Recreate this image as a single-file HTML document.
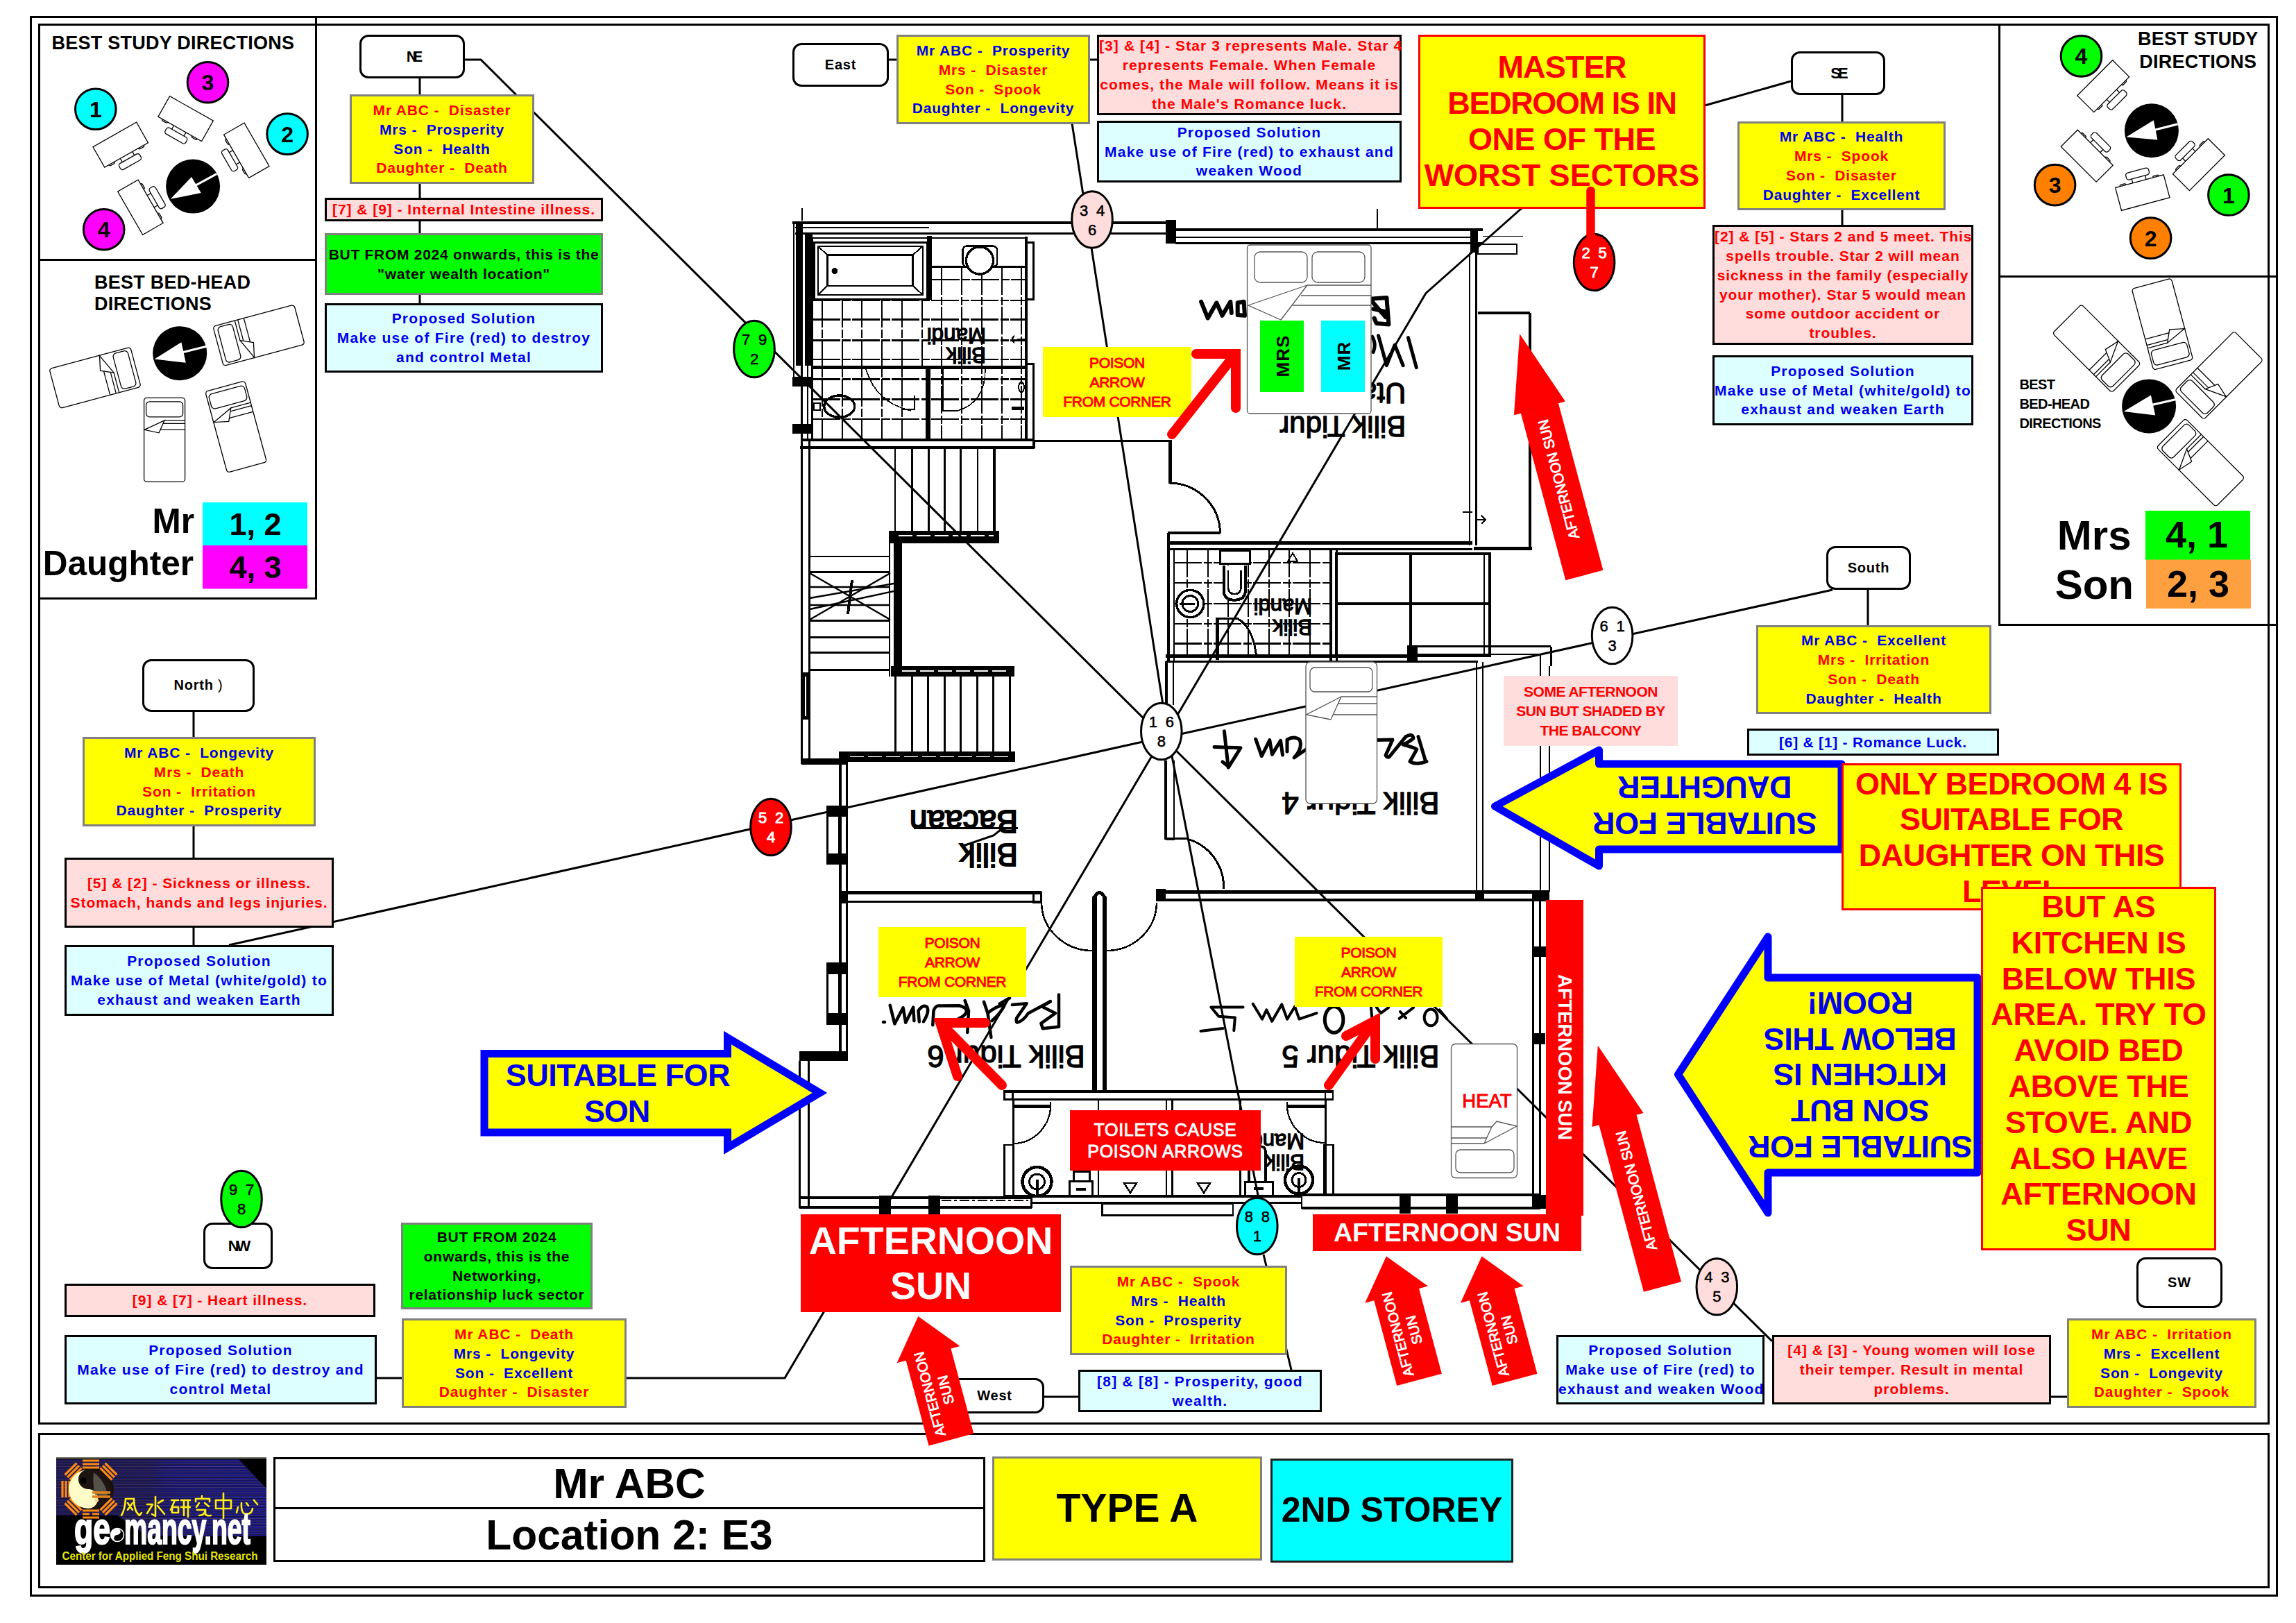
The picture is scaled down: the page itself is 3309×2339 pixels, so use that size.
<!DOCTYPE html>
<html>
<head>
<meta charset="utf-8">
<title>Mr ABC - Location 2: E3 - 2nd Storey</title>
<style>
html,body{margin:0;padding:0;background:#fff;}
body{width:3309px;height:2339px;position:relative;overflow:hidden;font-family:"Liberation Sans",sans-serif;font-weight:bold;color:#000;}
#pg{position:absolute;left:0;top:0;width:3309px;height:2339px;overflow:hidden;}
svg.ly{position:absolute;left:0;top:0;}
.bx{position:absolute;box-sizing:border-box;display:flex;align-items:center;justify-content:center;text-align:center;font-size:21px;line-height:27.9px;letter-spacing:0.95px;white-space:nowrap;}
.bx>div{width:100%;}
.y{background:#ffff00;border:3px solid #808080;letter-spacing:0.85px;}
.pk{background:#ffdddd;border:3px solid #000;color:#ff0000;}
.cy{background:#ddffff;border:3px solid #000;color:#0000ee;letter-spacing:1.24px;}
.gr{background:#00ff00;border:3px solid #808080;color:#000;letter-spacing:0.72px;}
.lb{background:#fff;border:3px solid #000;border-radius:13px;font-size:20px;letter-spacing:0.8px;}
.r{color:#ff0000;}
.b{color:#0000ee;}
.big{background:#ffff00;border:3px solid #ff0000;color:#ff0000;font-size:45px;line-height:51.8px;letter-spacing:0;align-items:flex-start;overflow:hidden;}
.red{background:#ff0000;color:#fff;letter-spacing:0;}
.pa{background:#ffff00;color:#ff0000;font-weight:normal;font-size:21px;line-height:28px;letter-spacing:-0.3px;-webkit-text-stroke:0.9px #ff0000;}
.t{position:absolute;white-space:nowrap;}
.rot{position:absolute;white-space:nowrap;transform-origin:0 0;}
</style>
</head>
<body>
<div id="pg">
<svg class="ly" width="3309" height="2339" viewBox="0 0 3309 2339" font-family="Liberation Sans, sans-serif" font-weight="normal" shape-rendering="crispEdges">
<g fill="none" stroke="#000" stroke-width="3" stroke-linecap="butt">
<!-- ===== top wall ===== -->
<path d="M1142 321H1694" stroke-width="4"/>
<path d="M1146 336H1680" stroke-width="3"/><path d="M1146 327.500H1339" stroke-width="2"/>
<path d="M1164 343H1478" stroke-width="2"/>
<path d="M1694 331H2137" stroke-width="4"/>
<path d="M1694 341.500H2119" stroke-width="2"/>
<path d="M1694 350.500H2137" stroke-width="3"/>
<path d="M1156 300V318M1984.500 301V331" stroke-width="2"/>
<rect x="2130" y="352" width="56" height="14" stroke-width="2.5"/>
<path d="M2137 340.500H2195" stroke-width="1.5"/>
<!-- ===== bathroom 1 left wall ===== -->
<path d="M1143.500 321V545" stroke-width="2"/>
<path d="M1164 336V635" stroke-width="2"/>
<path d="M1170.500 343V635" stroke-width="3"/>
<path d="M1155 527V1101M1166.500 635V1095" stroke-width="3"/>
<!-- bathtub -->
<rect x="1173" y="349.500" width="163.500" height="82" stroke-width="3"/>
<rect x="1178.500" y="354.500" width="151.500" height="70.500" stroke-width="2"/>
<rect x="1192.500" y="367.500" width="123" height="44.500" stroke-width="2.5"/>
<path d="M1178.500 354.500L1192.500 367.500M1330 354.500L1315.500 367.500M1178.500 425L1192.500 412M1330 425L1315.500 412" stroke-width="2"/>
<path d="M1339.500 340V431.500" stroke-width="6.5"/>
<!-- basin 1 -->
<rect x="1387.500" y="354.500" width="49.500" height="30" rx="6" stroke-width="2.5"/>
<path d="M1343 384.500H1479" stroke-width="2.5"/>
<!-- bathroom right wall -->
<path d="M1479 341V635" stroke-width="3.5"/>
<path d="M1479 349.500H1489.500V431.500H1479M1479 524.500H1489.500V646" stroke-width="2.5"/>
<!-- tile grid bath 1 -->
<g stroke-width="2.100" stroke-dasharray="40 2.5 12 2.5">
<path d="M1185 432V632M1213.700 432V632M1242.400 432V632M1271.200 432V632M1300 432V632M1328.700 432V528"/>
<path d="M1357.400 385V632M1386.200 385V632M1415 385V632M1443.700 385V632M1472.400 385V632"/>
<path d="M1343 403H1479M1171 433H1479M1171 460.500H1479M1171 490.500H1479M1171 518H1479M1171 546.500H1479M1171 575.500H1479M1171 604H1479"/>
</g>
<path d="M1170.500 529.700H1479" stroke-width="5.500"/>
<path d="M1337 528V633" stroke-width="7"/>
<path d="M1157 634H1490" stroke-width="4.500"/>
<path d="M1153 645H1491" stroke-width="3.500"/>
<path d="M1490.500 634V646" stroke-width="2.5"/>
<!-- wc 1 -->
<ellipse cx="1209.700" cy="585.700" rx="22" ry="15.700" stroke-width="3.500"/>
<rect x="1173" y="581" width="9" height="10" stroke-width="2.5"/>
<!-- door arcs bath 1 (thin) -->
<path d="M1248 532Q1262 580 1313 592M1300 590H1318V570M1359 532V592H1380M1380 592Q1420 580 1420 532" stroke-width="1.600"/>
<path d="M1462 484q-6 5 0 10M1466 489h12" stroke-width="2.5"/>
<ellipse cx="1472" cy="558" rx="4" ry="7" stroke-width="2"/>
<path d="M1458 588H1476" stroke-width="5"/>
<!-- ===== stairs ===== -->
<g stroke-width="2.800">
<path d="M1290 647V766M1314.200 647V766M1338.500 647V766M1361.300 647V766M1384.800 647V766M1409 647V766"/>
<path d="M1167 802H1283M1167 824.200H1283M1167 894.800H1283M1167 918.300H1283M1167 940.500H1283M1167 965.300H1283"/>
<path d="M1290.700 975V1083M1314.200 975V1083M1337.700 975V1083M1361.300 975V1083M1384.800 975V1083M1408.300 975V1083M1431.800 975V1083M1455.400 975V1083"/>
</g>
<path d="M1433 647V766" stroke-width="4"/>
<g stroke-width="2.400" shape-rendering="auto">
<path d="M1167 826L1283 893M1167 893L1283 826M1167 862L1288 841M1167 878L1288 852M1167 846H1283M1167 872H1283"/>
</g>
<path d="M1228 836L1222 885" stroke-width="4"/>
<path d="M1282 765V975" stroke-width="2"/>
<!-- reading room -->
<path d="M1155 1097H1221.500" stroke-width="9"/>
<path d="M1211 1083V1516M1220.500 1098V1516" stroke-width="3.500"/>
<rect x="1192.500" y="1162" width="17" height="83" stroke-width="2.5"/>
<rect x="1192.500" y="1388" width="17" height="88" stroke-width="2.5"/>
<path d="M1209.700 1286.500H1501" stroke-width="4.500"/>
<path d="M1209.700 1299.500H1501" stroke-width="3.500"/>
<rect x="1489" y="1286" width="11" height="14" stroke-width="3"/>
<path d="M1501 1301A73 70 0 0 0 1574 1370" stroke-width="2.500"/>
<path d="M1667 1301A72 70 0 0 1 1595 1370" stroke-width="2.500"/>
<path d="M1577.500 1292V1572M1591.800 1292V1572" stroke-width="6.500"/>
<path d="M1577.500 1293Q1584.500 1280 1591.800 1293" stroke-width="5"/>
<path d="M1666 1285.500H2232" stroke-width="4.500"/>
<path d="M1666 1297H2232" stroke-width="4"/>
<path d="M1680 1096V1209.500" stroke-width="3.600"/><path d="M1680 1209.500H1691.800V1096" stroke-width="2.600"/>
<path d="M1680 1208H1711" stroke-width="3"/>
<path d="M1711 1209A72 72 0 0 1 1763.600 1281" stroke-width="3"/>
<!-- master bedroom door / lower wall -->
<path d="M1490.500 635.500H1689" stroke-width="3.500"/>
<path d="M1686.500 635V697" stroke-width="5.500"/>
<path d="M1686 696A74 73 0 0 1 1758.500 768" stroke-width="3"/>
<path d="M1682.500 768H1758.500" stroke-width="4.500"/>
<!-- ===== bath 2 ===== -->
<path d="M1682.500 782.500H2121.500" stroke-width="4.500"/>
<path d="M1682.500 791.500H2121.500" stroke-width="3"/>
<path d="M1684 768V953" stroke-width="3.500"/><path d="M1680.500 953V1016" stroke-width="4"/><path d="M1691 953V1016" stroke-width="2.600"/>
<path d="M1692 791V953" stroke-width="2.500"/>
<path d="M1918 791.500V953.500" stroke-width="4.500"/>
<path d="M1926 791.500V953.500" stroke-width="3"/>
<path d="M1680 945.500H2043" stroke-width="4.500"/>
<path d="M1680 953.500H2043" stroke-width="3"/>
<g stroke-width="2.100" stroke-dasharray="40 2.5 12 2.5">
<path d="M1711.400 792V944M1741.400 792V944M1770.200 792V944M1799 792V944M1829 792V944M1857.700 792V944M1887.700 792V944"/>
<path d="M1692 811.200H1916M1692 840H1916M1692 870H1916M1692 898.700H1916M1692 927.500H1916"/>
</g>
<circle cx="1715.300" cy="870" r="19.600" stroke-width="3.500" fill="#fff"/>
<circle cx="1715.300" cy="870" r="11.500" stroke-width="3"/>
<path d="M1700 870H1722" stroke-width="3"/>
<rect x="1758.500" y="793" width="43" height="19.500" stroke-width="3" fill="#fff"/>
<path d="M1763.600 815V850Q1763.600 864.700 1779 864.700Q1795 864.700 1795 850V815" stroke-width="4" fill="#fff"/>
<path d="M1770 822V846Q1770 856 1779 856Q1788.500 856 1788.500 846V822" stroke-width="2.500"/>
<path d="M1754.500 889.500V951" stroke-width="5.500"/>
<path d="M1752 891H1784.500" stroke-width="3"/>
<path d="M1784.500 892Q1806 905 1810.700 945.700" stroke-width="3"/>
<path d="M1863 797l7 12h-14z" stroke-width="2"/>
<!-- wardrobe -->
<rect x="1926" y="798" width="220.500" height="146.500" stroke-width="4"/>
<path d="M2032.800 798V944.500" stroke-width="4"/>
<path d="M1926 870H2146" stroke-width="4.500"/>
<path d="M2138.600 798V944" stroke-width="2"/>
<path d="M2043 931.500H2235M2235.300 931.500V960" stroke-width="3"/>
<path d="M2043 943H2221" stroke-width="2"/>
<path d="M2043 953.500H2130" stroke-width="3"/>
<path d="M2220 943V1285M2233 960V1285" stroke-width="2.500"/>
<!-- master right wall / balcony -->
<path d="M2118 364V786M2127.500 364V786" stroke-width="2.600"/>
<path d="M2129.500 451.200H2205.300" stroke-width="4.500"/>
<path d="M2204.500 451V791.500" stroke-width="4"/>
<path d="M2124 790.300H2208" stroke-width="4.500"/>
<path d="M2108 738H2122M2128 749H2141M2135 743l6 6l-6 6" stroke-width="2"/>
<!-- bedroom 4 right wall -->
<path d="M2128 953.500V1285M2137 953.500V1285" stroke-width="2.700"/>
<!-- bedroom 5 right wall -->
<path d="M2209.200 1297V1742M2219.600 1297V1742" stroke-width="2.700"/>
<!-- ===== bedroom 6 ===== -->
<path d="M1152.500 1529V1741" stroke-width="3.500"/>
<path d="M1165.300 1529V1741" stroke-width="2.700"/>
<path d="M1152 1725.500H1487" stroke-width="4"/>
<path d="M1152 1740H1487" stroke-width="4"/>
<path d="M1486.700 1724V1741" stroke-width="2.500"/>
<path d="M1357 1730H1482" stroke-width="1.500" stroke-dasharray="14 4 4 4"/>
<!-- ===== toilets ===== -->
<path d="M1446.200 1572.500H1921.700" stroke-width="4"/>
<path d="M1446.200 1584.500H1921.700" stroke-width="2.700"/>
<rect x="1447.500" y="1572" width="12" height="13" stroke-width="2.500"/>
<rect x="1910" y="1572" width="11" height="13" stroke-width="2.500"/>
<path d="M1460 1585V1724" stroke-width="3"/>
<rect x="1447.500" y="1650" width="13" height="74" stroke-width="2.700"/>
<path d="M1514 1588A54 56 0 0 1 1460.600 1648" stroke-width="2.200"/>
<path d="M1855 1588A55 56 0 0 0 1910 1647" stroke-width="2.200"/>
<path d="M1462 1594H1514M1855 1594H1910" stroke-width="5"/>
<path d="M1910 1585V1723" stroke-width="3"/>
<rect x="1908.500" y="1650" width="13" height="73" stroke-width="2.700"/>
<path d="M1583 1585V1724M1681 1585V1724M1689.500 1585V1724M1787.500 1585V1724" stroke-width="2.700"/>
<circle cx="1494.500" cy="1703" r="21" stroke-width="4.500" fill="#fff"/>
<circle cx="1494.500" cy="1703" r="11" stroke-width="3"/>
<path d="M1494.500 1700V1722" stroke-width="4"/>
<circle cx="1872" cy="1700.500" r="20" stroke-width="4.500" fill="#fff"/>
<circle cx="1872" cy="1700.500" r="10" stroke-width="3"/>
<path d="M1872 1698V1722" stroke-width="4"/>
<rect x="1541" y="1702" width="33" height="21" stroke-width="3"/>
<rect x="1547" y="1688" width="23" height="14" stroke-width="3"/>
<path d="M1551 1714H1565" stroke-width="4"/>
<rect x="1794" y="1703" width="40" height="20" stroke-width="3"/>
<path d="M1800 1703V1660q0 -8 8 -8h8q8 0 8 8V1703" stroke-width="3.500"/>
<path d="M1807 1713H1821" stroke-width="4"/>
<path d="M1620 1705h18l-9 14zM1726 1705h18l-9 14z" stroke-width="2.500"/>
<path d="M1446 1724H1876" stroke-width="3.500"/>
<path d="M1487 1733.200H1876" stroke-width="2.700"/>
<rect x="1588.500" y="1735" width="188.500" height="16.500" stroke-width="2.700"/>
<!-- bedroom 5 bottom wall -->
<path d="M1876 1724V1742" stroke-width="2.700"/>
<path d="M1876 1722H2220" stroke-width="4.500"/>
<path d="M1876 1741H2220" stroke-width="4"/>
</g>
<!-- ===== solid black blocks ===== -->
<g fill="#000" stroke="none">
<rect x="1680" y="316.500" width="14.500" height="34"/>
<rect x="2119" y="332" width="11" height="32"/>
<rect x="1146.500" y="322" width="10" height="205"/><rect x="1160" y="337" width="11" height="190"/>
<rect x="1142" y="542.500" width="28.500" height="14.500"/>
<rect x="1142" y="610.500" width="28.500" height="14.500"/>
<circle cx="1203" cy="390.500" r="4.500"/>
<!-- stair C wall -->
<rect x="1281" y="765" width="159" height="17.500"/>
<rect x="1288" y="782" width="12" height="179"/>
<rect x="1284" y="960" width="178" height="14.500"/>
<rect x="1212.300" y="1082.700" width="251" height="15.700"/>
<!-- windows -->
<rect x="1191.400" y="1161" width="30" height="16"/>
<rect x="1191.400" y="1230.400" width="30" height="15.600"/>
<rect x="1191.400" y="1387.200" width="29" height="17"/>
<rect x="1191.400" y="1460" width="30" height="17"/>
<rect x="1152.200" y="1515" width="69.300" height="14.400"/>
<rect x="1267.200" y="1722.700" width="17" height="27.500"/>
<rect x="1337.700" y="1722.700" width="17" height="27.500"/>
<rect x="2017" y="1720" width="16" height="29"/>
<rect x="2083.700" y="1720" width="17" height="29"/>
<rect x="2207.500" y="1721.500" width="25" height="20.500"/>
<rect x="2210.500" y="1363.600" width="17" height="15"/>
<rect x="2210.500" y="1489" width="16.500" height="15.500"/>
<rect x="2027.600" y="930" width="15.600" height="23.600"/>
<rect x="2125.600" y="1283" width="13" height="16"/>
<rect x="2208" y="1283" width="25" height="16"/>
<rect x="1666" y="1281" width="14" height="18"/>
<rect x="1209" y="1284" width="13" height="18"/>
<rect x="1156.500" y="969" width="9" height="68" />
</g>
<g fill="none" stroke="#fff" stroke-width="1.500" stroke-dasharray="20 6">
<path d="M1295 772H1432M1300 967H1455M1225 1090.500H1455"/>
</g>
<path d="M1161 975V1032" stroke="#fff" stroke-width="2.500" fill="none"/>
<circle cx="1412" cy="375.400" r="19.600" fill="#fff" stroke="#000" stroke-width="3.500"/>
<!-- ===== printed room labels (upside down) ===== -->
<g fill="#000" stroke="#000" stroke-width="1.300" shape-rendering="auto">
<text transform="translate(1421,500.500) rotate(180)" font-size="31.300">Bilik</text>
<text transform="translate(1421,472.500) rotate(180)" font-size="31.300">Mandi</text>
<text transform="translate(1891,893) rotate(180)" font-size="31">Bilik</text>
<text transform="translate(1891,863) rotate(180)" font-size="31">Mandi</text>
<text transform="translate(1880,1664) rotate(180)" font-size="31">Bilik</text>
<text transform="translate(1880,1634) rotate(180)" font-size="31">Mandi</text>
<text transform="translate(2026.300,600) rotate(180)" font-size="42">Bilik Tidur</text>
<text transform="translate(2026.300,552) rotate(180)" font-size="42">Utama</text>
<text transform="translate(1467,1216) rotate(180)" font-size="46" stroke-width="1.800">Bilik</text>
<text transform="translate(1467,1167.600) rotate(180)" font-size="46" stroke-width="2">Bacaan</text>
<path d="M1317 1193.500H1467M1388 1219L1432 1204L1442 1196" fill="none" stroke-width="3"/>
<text transform="translate(2074.600,1141.500) rotate(180)" font-size="44">Bilik Tidur 4</text>
<text transform="translate(1563.800,1507) rotate(180)" font-size="44">Bilik Tidur 6</text>
<text transform="translate(2074.600,1507) rotate(180)" font-size="44">Bilik Tidur 5</text>
</g>
<!-- ===== handwriting (traced) ===== -->
<g fill="none" stroke="#000" stroke-linecap="round" stroke-linejoin="round" shape-rendering="auto">
<g stroke-width="5">
<path d="M1764.400 1053.700L1770.200 1106M1750 1076.600L1788 1077.700L1771 1105L1762 1098"/>
<path d="M1809.700 1065.200L1818.300 1089.600L1829.800 1066.600L1833.400 1087.400L1845.600 1067.300L1848.500 1088.100"/>
<path d="M1855 1083L1855 1066Q1865 1060 1873 1066Q1878 1078 1865 1092L1882.300 1080"/>
<path d="M1985 1066.600L2007 1066L1997 1088.500Q1999 1092 2002 1091L2026 1061.600"/>
<path d="M2026 1061.600Q2036 1056 2037 1064Q2030 1070 2022 1073Q2040 1078 2041.800 1080L2032 1097.500Q2040 1103 2056 1097.500M2044 1061.600L2054.700 1097.500"/>
</g>
<g stroke-width="4.500">
<path d="M1282.700 1448.700L1289.400 1475.500L1301.600 1452.300L1305.200 1473.700L1316.200 1451.700L1317.400 1471.200"/>
<path d="M1324.800 1472.400L1323.500 1456.600Q1330 1447 1336 1451Q1340 1458 1330.900 1472.400"/>
<path d="M1344.300 1477.300L1345.500 1456.600Q1348 1450 1352 1449.600L1382 1449.300Q1394 1452 1393 1458Q1390 1465 1382 1467.600"/>
<path d="M1390.600 1442L1396 1456.600L1394.300 1488"/>
<path d="M1418 1443.800L1423.500 1460.200L1428.400 1495M1423.500 1460.200Q1435 1450 1448 1448Q1444 1458 1429.600 1471.200M1440.600 1446.800L1455.200 1438.300"/>
<path d="M1458.900 1448L1479.600 1446.200L1465 1467.600Q1464 1473 1466 1473.600Q1474 1472 1482 1460.200L1513.800 1443.200"/>
<path d="M1526 1433.400V1479.800M1513.800 1443.200L1501.600 1450.500L1521 1460.200L1500.400 1474.900L1502.800 1482.200L1526 1479.800"/>
<path d="M1273 1473h2"/>
</g>
<g stroke-width="4">
<path d="M1745.400 1451.500H1791.600M1745.400 1451.500L1756.400 1464.800L1779.900 1466.400L1778.300 1485.200M1730.500 1486L1762.600 1482"/>
<path d="M1805.700 1446.800L1819.100 1468.700L1825.300 1455.400L1833.200 1471.800L1847.300 1447.500L1855.100 1468.700L1866.100 1450.700L1872.400 1468.700L1897.500 1460.100"/>
<ellipse cx="1922.600" cy="1469.500" rx="13.300" ry="18.800" stroke-width="5"/>
<path d="M1975.900 1450.700L1977.400 1468.700M1983.700 1451.500L1990 1460.100L2001 1452.200M2016.600 1467.900L2037 1452.200M2018 1458L2026 1467"/>
<ellipse cx="2062.100" cy="1466.400" rx="9.400" ry="11.800"/>
<path d="M2074.600 1455.400L2085 1468"/>
</g>
<g stroke-width="6">
<path d="M1731.100 434.800L1740.700 458.500L1753.300 436.300L1761.500 454.800L1773.300 434.800L1774.800 451.100"/>
<path d="M1783.700 436.300V454.100L1794 454.800L1792.600 434.800Z"/>
<path d="M1998.400 428.900L2001.400 467.400M1977.700 430.400L1998.400 428.900M1979.200 445.200L1998.400 449.600M1980.600 458.500L1983.600 465.900L2001.400 467.400M1977.700 434.800L1996.900 457"/>
<path d="M1986.500 483.700L1998.400 526.600L2010.200 497L2022.100 526.600M2029.500 486.600L2041.300 529.600M1977.700 485.200Q1984 496 1979.100 507.400" stroke-width="5"/>
</g>
</g>
</svg>

<svg class="ly" width="3309" height="2339" viewBox="0 0 3309 2339">
<!-- frame -->
<g fill="none" stroke="#000" stroke-width="3">
<rect x="44.5" y="24.5" width="3237" height="2275"/>
<rect x="56.5" y="35.5" width="3213" height="2016"/>
<rect x="56.5" y="2066.5" width="3213" height="221"/>
<path d="M455.5 24V862.5H56M56 374.5H455"/>
<path d="M2881.5 35V900.5H3281M2881 398.5H3281"/>
</g>
<!-- compass / connector lines -->
<g fill="none" stroke="#000" stroke-width="3" stroke-linejoin="round">
<path d="M669 86H693L1674 1061"/>
<path d="M1545 178L1682 1054"/>
<path d="M2581 117L2457 152L2300 215L2192 301L2055 422.5L1683 1054"/>
<path d="M2641 850L1674 1064"/>
<path d="M2554 1933L2474 1854L1674 1061"/>
<path d="M1861 1974L1821 1808M1813.5 1725L1682 1054"/>
<path d="M902 1986H1131L1681 1054"/>
<path d="M330 1362L1674 1063"/>
<!-- small connectors -->
<path d="M605 112V437"/>
<path d="M1280 86H1293M1570 86H1582"/>
<path d="M2655 136V325"/>
<path d="M2692 849V902"/>
<path d="M279 1025V1463"/>
<path d="M541 1986H580"/>
<path d="M1504 2013H1555"/>
<path d="M2955 2013H2980"/>
</g>
<!-- ============ blue arrows ============ -->
<g fill="#ffff00" stroke="#0000ff" stroke-width="11" stroke-linejoin="round">
<path d="M2154.5 1162L2304.5 1081V1101H2654V1224H2304.5V1248Z"/>
<path d="M2418.5 1548.5L2548 1350V1409H2850V1690H2548V1748Z"/>
<path d="M1181.5 1575L1048.5 1495.5V1518.5H698V1632H1048.5V1654Z" stroke-linejoin="miter" stroke-miterlimit="10"/>
</g>
<g fill="#0000ee" font-size="45" font-family="Liberation Sans, sans-serif" font-weight="bold" text-anchor="middle">
<text transform="translate(2457,1161) rotate(180)" letter-spacing="-0.5"><tspan x="0" y="-10">SUITABLE FOR</tspan><tspan x="0" y="41.8">DAUGHTER</tspan></text>
<text transform="translate(2681,1549.5) rotate(180)" letter-spacing="-0.5"><tspan x="0" y="-87.5">SUITABLE FOR</tspan><tspan x="0" y="-35.7">SON BUT</tspan><tspan x="0" y="16.1">KITCHEN IS</tspan><tspan x="0" y="67.9">BELOW THIS</tspan><tspan x="0" y="119.7">ROOM!</tspan></text>
<text x="890.4" y="1565" letter-spacing="-0.5">SUITABLE FOR</text>
<text x="889" y="1616.8" letter-spacing="-1.2">SON</text>
</g>
</svg>

<!-- ===== NE column ===== -->
<div class="bx lb" style="left:518px;top:50px;width:152px;height:63px;font-size:22px;letter-spacing:-7px;">NE</div>
<div class="bx y" style="left:504px;top:136px;width:266px;height:129px;"><div><span class="r">Mr ABC -&nbsp; Disaster</span><br><span class="b">Mrs -&nbsp; Prosperity</span><br><span class="b">Son -&nbsp; Health</span><br><span class="r">Daughter -&nbsp; Death</span></div></div>
<div class="bx pk" style="left:468px;top:285px;width:401px;height:34px;">[7] &amp; [9] - Internal Intestine illness.</div>
<div class="bx gr" style="left:468px;top:336px;width:401px;height:89px;"><div>BUT FROM 2024 onwards, this is the<br>"water wealth location"</div></div>
<div class="bx cy" style="left:468px;top:437px;width:401px;height:100px;"><div>Proposed Solution<br>Make use of Fire (red) to destroy<br>and control Metal</div></div>

<!-- ===== East ===== -->
<div class="bx lb" style="left:1142px;top:62px;width:139px;height:63px;">East</div>
<div class="bx y" style="left:1292px;top:50px;width:279px;height:129px;"><div><span class="b">Mr ABC -&nbsp; Prosperity</span><br><span class="r">Mrs -&nbsp; Disaster</span><br><span class="r">Son -&nbsp; Spook</span><br><span class="b">Daughter -&nbsp; Longevity</span></div></div>
<div class="bx pk" style="left:1581px;top:50px;width:439px;height:116px;letter-spacing:1.1px;"><div>[3] &amp; [4] - Star 3 represents Male. Star 4<br>represents Female. When Female<br>comes, the Male will follow. Means it is<br>the Male's Romance luck.</div></div>
<div class="bx cy" style="left:1581px;top:174px;width:439px;height:89px;"><div>Proposed Solution<br>Make use of Fire (red) to exhaust and<br>weaken Wood</div></div>

<!-- ===== Master bedroom note ===== -->
<div class="bx big" style="left:2044px;top:50px;width:414px;height:251px;padding-top:18px;line-height:52px;"><div><span style="letter-spacing:-0.8px">MASTER</span><br><span style="letter-spacing:-1.4px">BEDROOM IS IN</span><br><span style="letter-spacing:-0.5px">ONE OF THE</span><br>WORST SECTORS</div></div>

<!-- ===== SE ===== -->
<div class="bx lb" style="left:2581px;top:74px;width:136px;height:63px;font-size:22px;letter-spacing:-4px;">SE</div>
<div class="bx y" style="left:2504px;top:175px;width:300px;height:128px;"><div><span class="b">Mr ABC -&nbsp; Health</span><br><span class="r">Mrs -&nbsp; Spook</span><br><span class="r">Son -&nbsp; Disaster</span><br><span class="b">Daughter -&nbsp; Excellent</span></div></div>
<div class="bx pk" style="left:2468px;top:324px;width:376px;height:173px;"><div>[2] &amp; [5] - Stars 2 and 5 meet. This<br>spells trouble. Star 2 will mean<br>sickness in the family (especially<br>your mother). Star 5 would mean<br>some outdoor accident or<br>troubles.</div></div>
<div class="bx cy" style="left:2468px;top:512px;width:376px;height:101px;"><div>Proposed Solution<br>Make use of Metal (white/gold) to<br>exhaust and weaken Earth</div></div>

<!-- ===== South ===== -->
<div class="bx lb" style="left:2632px;top:787px;width:122px;height:63px;">South</div>
<div class="bx y" style="left:2531px;top:901px;width:339px;height:128px;"><div><span class="b">Mr ABC -&nbsp; Excellent</span><br><span class="r">Mrs -&nbsp; Irritation</span><br><span class="r">Son -&nbsp; Death</span><br><span class="b">Daughter -&nbsp; Health</span></div></div>
<div class="bx cy" style="left:2518px;top:1050px;width:363px;height:39px;letter-spacing:0.75px;">[6] &amp; [1] - Romance Luck.</div>

<!-- ===== SOME AFTERNOON SUN ===== -->
<div class="bx" style="left:2167px;top:974px;width:251px;height:101px;background:#ffdddd;color:#ff0000;font-size:21px;line-height:28px;letter-spacing:-0.5px;"><div>SOME AFTERNOON<br>SUN BUT SHADED BY<br>THE BALCONY</div></div>

<!-- ===== North ===== -->
<div class="bx lb" style="left:205px;top:950px;width:162px;height:76px;">North&nbsp;<span style="font-weight:normal">)</span></div>
<div class="bx y" style="left:119px;top:1062px;width:336px;height:129px;"><div><span class="b">Mr ABC -&nbsp; Longevity</span><br><span class="r">Mrs -&nbsp; Death</span><br><span class="r">Son -&nbsp; Irritation</span><br><span class="b">Daughter -&nbsp; Prosperity</span></div></div>
<div class="bx pk" style="left:93px;top:1236px;width:388px;height:101px;"><div>[5] &amp; [2] - Sickness or illness.<br>Stomach, hands and legs injuries.</div></div>
<div class="bx cy" style="left:93px;top:1362px;width:388px;height:101.5px;"><div>Proposed Solution<br>Make use of Metal (white/gold) to<br>exhaust and weaken Earth</div></div>

<!-- ===== NW ===== -->
<div class="bx lb" style="left:293px;top:1762px;width:100px;height:67px;font-size:22px;letter-spacing:-4px;">NW</div>
<div class="bx pk" style="left:93px;top:1850px;width:448px;height:48px;">[9] &amp; [7] - Heart illness.</div>
<div class="bx cy" style="left:93px;top:1924px;width:450px;height:100px;"><div>Proposed Solution<br>Make use of Fire (red) to destroy and<br>control Metal</div></div>
<div class="bx gr" style="left:578px;top:1762px;width:276px;height:125px;"><div>BUT FROM 2024<br>onwards, this is the<br>Networking,<br>relationship luck sector</div></div>
<div class="bx y" style="left:579px;top:1900px;width:324px;height:129px;"><div><span class="r">Mr ABC -&nbsp; Death</span><br><span class="b">Mrs -&nbsp; Longevity</span><br><span class="b">Son -&nbsp; Excellent</span><br><span class="r">Daughter -&nbsp; Disaster</span></div></div>

<!-- ===== West ===== -->
<div class="bx lb" style="left:1362px;top:1986px;width:143px;height:51px;">West</div>
<div class="bx y" style="left:1542px;top:1824px;width:313px;height:129px;"><div><span class="r">Mr ABC -&nbsp; Spook</span><br><span class="b">Mrs -&nbsp; Health</span><br><span class="b">Son -&nbsp; Prosperity</span><br><span class="r">Daughter -&nbsp; Irritation</span></div></div>
<div class="bx cy" style="left:1554px;top:1974px;width:351px;height:61px;"><div>[8] &amp; [8] - Prosperity, good<br>wealth.</div></div>

<!-- ===== SW ===== -->
<div class="bx lb" style="left:3079px;top:1812px;width:124px;height:73px;">SW</div>
<div class="bx y" style="left:2979px;top:1900px;width:273px;height:129px;"><div><span class="r">Mr ABC -&nbsp; Irritation</span><br><span class="b">Mrs -&nbsp; Excellent</span><br><span class="b">Son -&nbsp; Longevity</span><br><span class="r">Daughter -&nbsp; Spook</span></div></div>
<div class="bx pk" style="left:2554px;top:1924px;width:402px;height:100px;"><div>[4] &amp; [3] - Young women will lose<br>their temper. Result in mental<br>problems.</div></div>
<div class="bx cy" style="left:2243px;top:1924px;width:300px;height:100px;"><div>Proposed Solution<br>Make use of Fire (red) to<br>exhaust and weaken Wood</div></div>

<!-- ===== Poison arrow labels ===== -->
<div class="bx pa" style="left:1503px;top:500px;width:214px;height:101px;"><div>POISON<br>ARROW<br>FROM CORNER</div></div>
<div class="bx pa" style="left:1266px;top:1336px;width:213px;height:101px;"><div>POISON<br>ARROW<br>FROM CORNER</div></div>
<div class="bx pa" style="left:1866px;top:1350px;width:213px;height:101px;"><div>POISON<br>ARROW<br>FROM CORNER</div></div>

<!-- ===== Red blocks ===== -->
<div class="bx red" style="left:1542px;top:1600px;width:275px;height:87px;font-weight:normal;font-size:25px;line-height:31px;letter-spacing:0.7px;-webkit-text-stroke:0.9px #fff;"><div>TOILETS CAUSE<br>POISON ARROWS</div></div>
<div class="bx red" style="left:1154px;top:1750px;width:375px;height:141px;font-size:55.5px;line-height:65px;"><div>AFTERNOON<br>SUN</div></div>
<div class="bx red" style="left:1892px;top:1750px;width:387px;height:53px;font-size:37.5px;line-height:53px;">AFTERNOON SUN</div>
<div class="bx red" style="left:2227.5px;top:1297px;width:54.5px;height:455px;"></div>
<div class="rot" style="left:2272px;top:1404px;transform:rotate(90deg);color:#fff;font-size:27.4px;line-height:34px;">AFTERNOON SUN</div>

<!-- ===== Big yellow notes right ===== -->
<div class="bx big" style="left:2654px;top:1100px;width:490px;height:212px;padding-top:0.5px;letter-spacing:-0.6px;"><div>ONLY BEDROOM 4 IS<br>SUITABLE FOR<br>DAUGHTER ON THIS<br>LEVEL</div></div>
<div class="bx big" style="left:2855px;top:1278px;width:339px;height:524px;padding-top:0px;letter-spacing:-0.3px;"><div>BUT AS<br>KITCHEN IS<br>BELOW THIS<br>AREA. TRY TO<br>AVOID BED<br>ABOVE THE<br>STOVE. AND<br>ALSO HAVE<br>AFTERNOON<br>SUN</div></div>

<!-- ===== bottom title block ===== -->
<div class="bx" style="left:394px;top:2100px;width:1026px;height:75px;border:3px solid #000;font-size:60.5px;line-height:70px;letter-spacing:0;">Mr ABC</div>
<div class="bx" style="left:394px;top:2172px;width:1026px;height:79px;border:3px solid #000;font-size:60.5px;line-height:70px;letter-spacing:0;">Location 2: E3</div>
<div class="bx y" style="left:1430px;top:2099px;width:389px;height:150px;font-size:57px;letter-spacing:0;">TYPE A</div>
<div class="bx" style="left:1831px;top:2102px;width:350px;height:150px;background:#00ffff;border:3px solid #202020;font-size:50px;letter-spacing:0;">2ND STOREY</div>

<svg class="ly" width="3309" height="2339" viewBox="0 0 3309 2339" font-family="Liberation Sans, sans-serif" font-weight="bold">
<defs>
<g id="desk" fill="#fff" stroke="#000" stroke-width="1.3">
<rect x="-10" y="16" width="20" height="9"/>
<rect x="-17" y="23" width="34" height="10" rx="3.5"/>
<rect x="-29" y="15" width="9" height="4" rx="2"/>
<rect x="20" y="15" width="9" height="4" rx="2"/>
<rect x="-36" y="-17" width="72" height="34"/>
</g>
<g id="bed" fill="#fff" stroke="#000" stroke-width="1.3">
<rect x="-29.5" y="-60.5" width="59" height="121" rx="4"/>
<rect x="-26.5" y="-55" width="53" height="22" rx="5"/>
<path d="M-29.5 -14.5H29.5M0 -28H29.5M-3 -23.5H29.5" fill="none"/>
<path d="M-29 -14.5L0 -28L-8 -10Z"/>
</g>
<g id="compass">
<circle r="39" fill="#000"/>
</g>
<g id="rarrow"><polygon points="0,0 38.3,111 28,111 28,360 -28,360 -28,111 -38.3,111" fill="#ff0000"/></g>
<g id="sarrow"><polygon points="0,0 47,57 33.5,57 33.5,184 -33.5,184 -33.5,57 -47,57" fill="#ff0000"/></g>
</defs>

<!-- ============ floor plan beds ============ -->
<g fill="#fff" stroke="#555" stroke-width="1.3">
<rect x="1797.5" y="353" width="178.5" height="243" rx="4"/>
<rect x="1808" y="363" width="76" height="44" rx="8"/>
<rect x="1891" y="363" width="76" height="44" rx="8"/>
<path d="M1976 411H1884L1846 461M1976 426H1875M1976 440H1863M1884 411L1799 440L1846 461" fill="none"/>
<rect x="1882" y="954" width="102.5" height="204" rx="6"/>
<rect x="1888" y="962" width="90" height="35" rx="7"/>
<path d="M1984.500 1004H1933L1918 1037M1984.500 1014H1928M1984.500 1030H1921M1933 1004L1882.500 1030L1918 1037" fill="none"/>
<rect x="2091.5" y="1504.500" width="95" height="193" rx="6"/>
<rect x="2098" y="1657" width="84" height="33" rx="7"/>
<path d="M2091.500 1624H2150L2139 1648M2091.500 1640H2143M2091.500 1648H2139M2150 1624L2157 1616L2186 1623L2139 1648" fill="none"/>
</g>
<text x="2143" y="1595.500" font-size="27.500" font-weight="normal" fill="#ff0000" stroke="#ff0000" stroke-width="1" text-anchor="middle">HEAT</text>

<!-- ============ top-left panel: study ============ -->
<text x="74.5" y="70.7" font-size="27" letter-spacing="0.25">BEST STUDY DIRECTIONS</text>
<use href="#desk" transform="translate(173.7,208.7) rotate(-29.5)"/>
<use href="#desk" transform="translate(267.6,171.1) rotate(29.5)"/>
<use href="#desk" transform="translate(355.3,216.8) rotate(60)"/>
<use href="#desk" transform="translate(202.4,298.7) rotate(240)"/>
<g stroke="#000" stroke-width="3">
<circle cx="137.8" cy="157.2" r="29.3" fill="#00ffff"/>
<circle cx="299.5" cy="118.7" r="29.3" fill="#ff00ff"/>
<circle cx="414.1" cy="193.1" r="29.3" fill="#00ffff"/>
<circle cx="149.7" cy="330.7" r="29.3" fill="#ff00ff"/>
</g>
<g font-size="32" text-anchor="middle">
<text x="137.8" y="168.7">1</text><text x="299.5" y="130.2">3</text><text x="414.1" y="204.6">2</text><text x="149.7" y="342.2">4</text>
</g>
<circle cx="278.1" cy="268.6" r="39" fill="#000"/>
<path d="M312.1 250.7L270 273.6" stroke="#fff" stroke-width="3.2" fill="none"/>
<polygon points="245.8,286.8 276,255 289.8,277.9" fill="#fff"/>

<!-- ============ left panel: bed-head ============ -->
<text x="136" y="415.9" font-size="27" letter-spacing="0.25">BEST BED-HEAD</text>
<text x="136" y="447.3" font-size="27" letter-spacing="0.25">DIRECTIONS</text>
<use href="#bed" transform="translate(373,483.3) rotate(-105)"/>
<use href="#bed" transform="translate(137,544.4) rotate(75)"/>
<use href="#bed" transform="translate(237.1,633.8)"/>
<use href="#bed" transform="translate(340.1,615) rotate(-15.2)"/>
<circle cx="259.2" cy="509.2" r="39" fill="#000"/>
<path d="M297.4 499.3L255 509.7" stroke="#fff" stroke-width="3.2" fill="none"/>
<polygon points="222.6,517.6 261.4,493.2 267.8,522.8" fill="#fff"/>
<rect x="292" y="724" width="151" height="62" fill="#00ffff"/>
<rect x="292" y="786" width="151" height="62.5" fill="#ff00ff"/>
<text x="280" y="768.2" font-size="49.5" text-anchor="end">Mr</text>
<text x="279" y="829.3" font-size="49.5" text-anchor="end">Daughter</text>
<text x="368" y="771.3" font-size="45" text-anchor="middle">1, 2</text>
<text x="368" y="833" font-size="45" text-anchor="middle">4, 3</text>

<!-- ============ top-right panel: study ============ -->
<text x="3167.8" y="65.4" font-size="27" text-anchor="middle" letter-spacing="0.25">BEST STUDY</text>
<text x="3167.8" y="97.5" font-size="27" text-anchor="middle" letter-spacing="0.25">DIRECTIONS</text>
<use href="#desk" transform="translate(3031.2,124.2) rotate(-45)"/>
<use href="#desk" transform="translate(3007.7,224.7) rotate(225)"/>
<use href="#desk" transform="translate(3168.9,237.2) rotate(135)"/>
<use href="#desk" transform="translate(3087.8,277.6) rotate(165)"/>
<g stroke="#000" stroke-width="3">
<circle cx="2999.5" cy="80.9" r="29.3" fill="#00ff00"/>
<circle cx="2961.6" cy="266.6" r="29.3" fill="#ff8000"/>
<circle cx="3211.9" cy="281" r="29.3" fill="#00ff00"/>
<circle cx="3099.6" cy="343.1" r="29.3" fill="#ff8000"/>
</g>
<g font-size="32" text-anchor="middle">
<text x="2999.5" y="92.4">4</text><text x="2961.6" y="278.1">3</text><text x="3211.9" y="292.5">1</text><text x="3099.6" y="354.6">2</text>
</g>
<circle cx="3100.9" cy="188.3" r="39" fill="#000"/>
<path d="M3138.6 178.9L3095 189.8" stroke="#fff" stroke-width="3.2" fill="none"/>
<polygon points="3064.4,197.4 3103.8,173.3 3109.4,201.4" fill="#fff"/>

<!-- ============ right panel: bed-head ============ -->
<g font-size="20" letter-spacing="-0.6">
<text x="2910.5" y="560.9">BEST</text><text x="2910.5" y="588.9">BED-HEAD</text><text x="2910.5" y="616.8">DIRECTIONS</text>
</g>
<use href="#bed" transform="translate(3021.6,502.2) rotate(135)"/>
<use href="#bed" transform="translate(3116.4,467.2) rotate(165)"/>
<use href="#bed" transform="translate(3198,540.9) rotate(225)"/>
<use href="#bed" transform="translate(3171.4,666.7) rotate(-45)"/>
<circle cx="3097.1" cy="585.4" r="39" fill="#000"/>
<path d="M3135.1 575.7L3092 585.6" stroke="#fff" stroke-width="3.2" fill="none"/>
<polygon points="3060.7,592.9 3099.9,569.4 3106.2,598.6" fill="#fff"/>
<rect x="3092" y="736" width="151" height="71" fill="#00ff00"/>
<rect x="3093" y="806.5" width="151" height="70.5" fill="#ffa040"/>
<text x="3071.5" y="791.5" font-size="60" text-anchor="end">Mrs</text>
<text x="3075" y="863.2" font-size="60" text-anchor="end">Son</text>
<text x="3166" y="788.5" font-size="54" text-anchor="middle">4, 1</text>
<text x="3168" y="860" font-size="54" text-anchor="middle">2, 3</text>

<!-- ============ star circles ============ -->
<g stroke="#000" stroke-width="3">
<ellipse cx="1574" cy="316.5" rx="29.3" ry="40.7" fill="#ffdddd"/>
<ellipse cx="1087" cy="503" rx="29.3" ry="40.7" fill="#00ff00"/>
<ellipse cx="2297.6" cy="378" rx="29.3" ry="40.7" fill="#ff0000"/>
<ellipse cx="2323.6" cy="916" rx="29.3" ry="40.7" fill="#ffffff"/>
<ellipse cx="1673.8" cy="1054" rx="29.3" ry="40.7" fill="#ffffff"/>
<ellipse cx="1111" cy="1192" rx="29.3" ry="40.7" fill="#ff0000"/>
<ellipse cx="348" cy="1728" rx="29.3" ry="40.7" fill="#00ff00"/>
<ellipse cx="1811.8" cy="1767" rx="29.3" ry="40.7" fill="#00ffff"/>
<ellipse cx="2474.3" cy="1854.4" rx="29.3" ry="40.7" fill="#ffdddd"/>
</g>
<g font-size="22" text-anchor="middle" font-weight="normal" stroke="#000" stroke-width="0.55">
<text x="1562" y="310.5">3</text><text x="1586" y="310.5">4</text><text x="1574" y="338.5">6</text>
<text x="1075" y="497">7</text><text x="1099" y="497">9</text><text x="1087" y="525">2</text>
<g fill="#fff" stroke="#fff" stroke-width="0.9"><text x="2285.6" y="372">2</text><text x="2309.6" y="372">5</text><text x="2297.6" y="400">7</text></g>
<text x="2311.6" y="910">6</text><text x="2335.6" y="910">1</text><text x="2323.6" y="938">3</text>
<text x="1661.8" y="1048">1</text><text x="1685.8" y="1048">6</text><text x="1673.8" y="1076">8</text>
<g fill="#fff" stroke="#fff" stroke-width="0.9"><text x="1099" y="1186">5</text><text x="1123" y="1186">2</text><text x="1111" y="1214">4</text></g>
<text x="336" y="1722">9</text><text x="360" y="1722">7</text><text x="348" y="1750">8</text>
<text x="1799.8" y="1761">8</text><text x="1823.8" y="1761">8</text><text x="1811.8" y="1789">1</text>
<text x="2462.3" y="1848.4">4</text><text x="2486.3" y="1848.4">3</text><text x="2474.3" y="1876.4">5</text>
</g>
<!-- red stem from master box to 2 5 7 -->
<path d="M2292.5 275V340" stroke="#ff0000" stroke-width="12.5" stroke-linecap="round" fill="none"/>

<!-- ============ MRS / MR ============ -->
<rect x="1816" y="462" width="63" height="103" fill="#00ff00"/>
<rect x="1904" y="462" width="63" height="103" fill="#00ffff"/>
<text transform="translate(1857.5,513) rotate(-90)" font-size="26" text-anchor="middle" letter-spacing="1">MRS</text>
<text transform="translate(1945.5,513) rotate(-90)" font-size="26" text-anchor="middle" letter-spacing="1">MR</text>

<!-- ============ poison arrow strokes ============ -->
<g fill="none" stroke="#ff0000" stroke-width="14" stroke-linecap="round" stroke-linejoin="miter">
<path d="M1689 626L1779 512M1724 510H1781V588"/>
<path d="M1444 1564L1357 1476M1420 1474H1355L1380 1551"/>
<path d="M1915 1564L1980 1473M1940 1493L1982 1471V1526"/>
</g>

<!-- ============ red afternoon sun arrows ============ -->
<use href="#rarrow" transform="translate(2190.2,481.2) rotate(-15)"/>
<use href="#rarrow" transform="translate(2302.8,1506.8) rotate(-15)"/>
<use href="#sarrow" transform="translate(1997.9,1810.6) rotate(-15)"/>
<use href="#sarrow" transform="translate(2135.5,1810.6) rotate(-15)"/>
<use href="#sarrow" transform="translate(1323.3,1897) rotate(-15)"/>
<g fill="#fff" font-weight="normal" stroke="#fff" stroke-width="0.85">
<text transform="translate(2246.4,690.7) rotate(-105)" font-size="20.5" text-anchor="middle" dy="7">AFTERNOON SUN</text>
<text transform="translate(2358.5,1716) rotate(-105)" font-size="20.5" text-anchor="middle" dy="7">AFTERNOON SUN</text>
<g font-size="20" text-anchor="middle">
<text transform="translate(2029,1919) rotate(-105)"><tspan x="0" y="-8">AFTERNOON</tspan><tspan x="0" y="16">SUN</tspan></text>
<text transform="translate(2166.6,1919) rotate(-105)"><tspan x="0" y="-8">AFTERNOON</tspan><tspan x="0" y="16">SUN</tspan></text>
<text transform="translate(1354.4,2005.4) rotate(-105)"><tspan x="0" y="-8">AFTERNOON</tspan><tspan x="0" y="16">SUN</tspan></text>
</g>
</g>

<!-- ============ logo ============ -->
<svg x="81" y="2100" width="303" height="155" viewBox="0 0 303 155" overflow="hidden">
<defs>
<pattern id="lstripe" width="8" height="3.74" patternUnits="userSpaceOnUse">
<rect width="8" height="3.74" fill="#05050f"/>
<rect y="0" width="8" height="1.35" fill="#2626cc"/>
<rect y="1.9" width="8" height="1.1" fill="#62509c"/>
</pattern>
<linearGradient id="lgrad" x1="0" x2="1" y1="0" y2="0">
<stop offset="0" stop-color="#281c40" stop-opacity="0.45"/>
<stop offset="0.45" stop-color="#281c40" stop-opacity="0.35"/>
<stop offset="0.6" stop-color="#1010c0" stop-opacity="0.1"/>
<stop offset="1" stop-color="#1010e0" stop-opacity="0.15"/>
</linearGradient>
</defs>
<rect width="303" height="155" fill="#000"/>
<rect width="303" height="2" fill="#77776a"/>
<path d="M0 3H263L296 38L303 45V114H132L88 84H0Z" fill="url(#lstripe)"/>
<path d="M0 3H263L296 38L303 45V114H132L88 84H0Z" fill="url(#lgrad)"/>
<path d="M0 3H263L296 38L303 45V114H132L88 84H0Z" fill="#000" fill-opacity="0.18"/>
<!-- bagua -->
<g transform="translate(50,46)">
<circle r="33" fill="#1a120a"/>
<g stroke="#ff8a10" stroke-width="3.2" fill="none">
<path d="M-12 -41H12M-12 -36H12M-12 -31H12" />
<path d="M-12 41H12M-12 36H-2M2 36H12M-12 31H12" />
<path d="M-41 -12V12M-36 -12V12M-31 -12V12" />
<g transform="rotate(45)"><path d="M-12 -41H12M-12 -36H12M-12 -31H12"/></g>
<g transform="rotate(-45)"><path d="M-12 -41H12M-12 -36H12M-12 -31H12"/></g>
<g transform="rotate(135)"><path d="M-12 -41H12M-12 -36H12M-12 -31H12"/></g>
<g transform="rotate(-135)"><path d="M-12 -41H12M-12 -36H12M-12 -31H12"/></g>
</g>
<circle r="28" fill="#1c1410"/>
<path d="M2 -28A28 28 0 0 0 2 28A14 14 0 0 0 2 0A14 14 0 0 1 2 -28Z" fill="#fffcc8" transform="translate(-6,0)"/>
<path d="M4 -24Q22 -10 24 10L6 8Q2 -8 4 -24Z" fill="#55524c"/>
<circle cx="-11" cy="-12" r="4.500" fill="#000"/>
<path d="M2 5H28M2 11H28" stroke="#e0821a" stroke-width="3.500"/>
<circle cx="8" cy="16" r="3" fill="#f0d8a0"/>
</g>
<!-- chinese calligraphy approximation -->
<g stroke="#ffee10" stroke-width="2.600" fill="none" stroke-linecap="round" stroke-linejoin="round">
<path d="M100 60Q99 76 94 84M100 60H112Q112 78 120 84L123 80M103 66L110 76M110 66L103 76"/>
<path d="M143 57V85L138 82M131 68H139L131 81M147 66L154 62M146 70L156 82"/>
<path d="M166 62H176M171 62L165 76M167 72H176V80H167ZM180 62H193M180 72H193M184 62V84M190 62V86"/>
<path d="M210 56V60M201 64V60H221V64M206 66L202 72M214 66L220 71M203 76H215Q214 84 206 84M215 76V82Q216 85 223 84"/>
<path d="M241 52V88M230 62H252V74H230Z"/>
<path d="M262 72L260 80M267 66Q266 82 274 82Q282 82 283 74M274 66L277 70M285 62L290 68"/>
</g>
<!-- geomancy.net -->
<g fill="#fff" stroke="#fff" stroke-width="2.200" font-family="Liberation Sans, sans-serif" font-weight="bold" font-size="64">
<text x="26" y="125" textLength="52" lengthAdjust="spacingAndGlyphs">ge</text>
<text x="98" y="125" textLength="182" lengthAdjust="spacingAndGlyphs">mancy.net</text>
</g>
<circle cx="88" cy="112" r="9.500" fill="#fff"/>
<path d="M88 102.500A9.500 9.500 0 0 1 88 121.500A4.750 4.750 0 0 1 88 112A4.750 4.750 0 0 0 88 102.500Z" fill="#000"/>
<circle cx="88" cy="107.200" r="1.700" fill="#fff"/><circle cx="88" cy="116.800" r="1.700" fill="#000"/>
<circle cx="88" cy="112" r="9.500" fill="none" stroke="#fff" stroke-width="1.500"/>
<text x="8.500" y="147.500" fill="#e6e600" font-family="Liberation Sans, sans-serif" font-weight="bold" font-size="17" textLength="282" lengthAdjust="spacingAndGlyphs">Center for Applied Feng Shui Research</text>
</svg>
</svg>

</div>
</body>
</html>
